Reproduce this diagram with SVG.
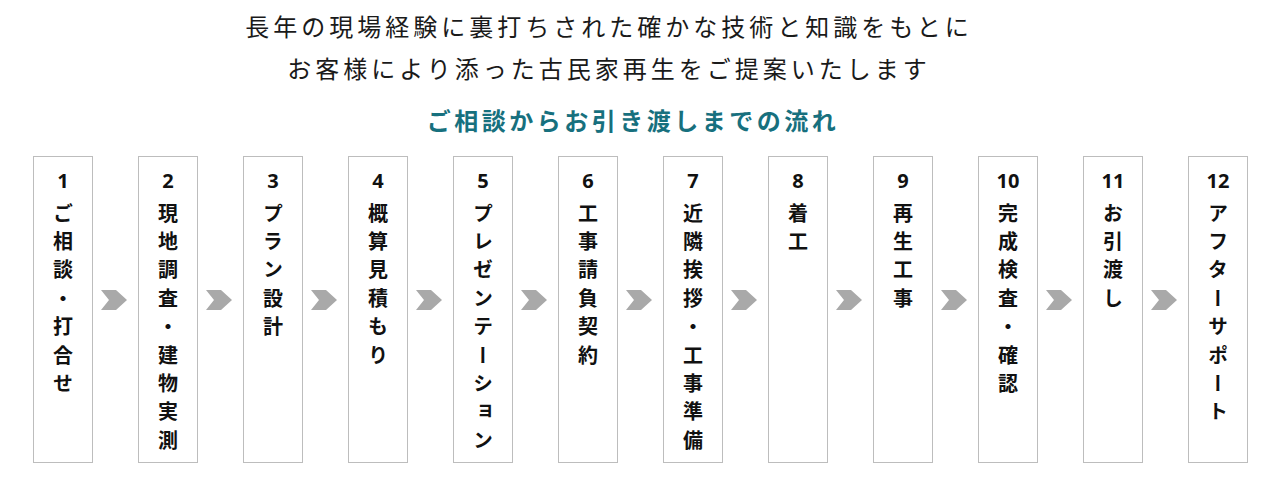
<svg xmlns="http://www.w3.org/2000/svg" width="1280" height="480" viewBox="0 0 1280 480">
<style>
.hd{font-family:"Noto Sans CJK JP","Noto Sans",sans-serif;font-size:24px;font-weight:400;fill:#1a1a1a;letter-spacing:4px;text-anchor:middle}
.tt{font-family:"Noto Sans CJK JP","Noto Sans",sans-serif;font-size:24px;font-weight:700;fill:#17707e;letter-spacing:3.5px;text-anchor:middle}
.box{fill:#fff;stroke:#bdbdbd;stroke-width:1}
.num{font-family:"Open Sans","Noto Sans",sans-serif;font-size:20px;font-weight:700;fill:#111;text-anchor:middle}
.lbl{font-family:"Noto Sans CJK JP",sans-serif;font-size:20px;font-weight:700;fill:#111;writing-mode:vertical-rl;letter-spacing:8.4px}
.chev{fill:#a9a9a9}
</style>
<defs>
<path id="chev" class="chev" d="M0,0 H15 L26,10 L15,20 H0 L8,10 Z"/>
</defs>
<g id="header">
<text class="hd" x="609" y="36">長年の現場経験に裏打ちされた確かな技術と知識をもとに</text>
<text class="hd" x="609" y="78">お客様により添った古民家再生をご提案いたします</text>
<text class="tt" x="633" y="130">ご相談からお引き渡しまでの流れ</text>
</g>
<g id="connectors">
<use href="#chev" x="101" y="290"/>
<use href="#chev" x="206" y="290"/>
<use href="#chev" x="311" y="290"/>
<use href="#chev" x="416" y="290"/>
<use href="#chev" x="521" y="290"/>
<use href="#chev" x="626" y="290"/>
<use href="#chev" x="731" y="290"/>
<use href="#chev" x="836" y="290"/>
<use href="#chev" x="941" y="290"/>
<use href="#chev" x="1046" y="290"/>
<use href="#chev" x="1151" y="290"/>
</g>
<g id="step1"><rect class="box" x="33.5" y="156.5" width="59" height="306"/><text class="num" x="63" y="188">1</text><text class="lbl" x="63" y="203">ご相談・打合せ</text></g>
<g id="step2"><rect class="box" x="138.5" y="156.5" width="59" height="306"/><text class="num" x="168" y="188">2</text><text class="lbl" x="168" y="203">現地調査・建物実測</text></g>
<g id="step3"><rect class="box" x="243.5" y="156.5" width="59" height="306"/><text class="num" x="273" y="188">3</text><text class="lbl" x="273" y="203">プラン設計</text></g>
<g id="step4"><rect class="box" x="348.5" y="156.5" width="59" height="306"/><text class="num" x="378" y="188">4</text><text class="lbl" x="378" y="203">概算見積もり</text></g>
<g id="step5"><rect class="box" x="453.5" y="156.5" width="59" height="306"/><text class="num" x="483" y="188">5</text><text class="lbl" x="483" y="203">プレゼンテーション</text></g>
<g id="step6"><rect class="box" x="558.5" y="156.5" width="59" height="306"/><text class="num" x="588" y="188">6</text><text class="lbl" x="588" y="203">工事請負契約</text></g>
<g id="step7"><rect class="box" x="663.5" y="156.5" width="59" height="306"/><text class="num" x="693" y="188">7</text><text class="lbl" x="693" y="203">近隣挨拶・工事準備</text></g>
<g id="step8"><rect class="box" x="768.5" y="156.5" width="59" height="306"/><text class="num" x="798" y="188">8</text><text class="lbl" x="798" y="203">着工</text></g>
<g id="step9"><rect class="box" x="873.5" y="156.5" width="59" height="306"/><text class="num" x="903" y="188">9</text><text class="lbl" x="903" y="203">再生工事</text></g>
<g id="step10"><rect class="box" x="978.5" y="156.5" width="59" height="306"/><text class="num" x="1008" y="188">10</text><text class="lbl" x="1008" y="203">完成検査・確認</text></g>
<g id="step11"><rect class="box" x="1083.5" y="156.5" width="59" height="306"/><text class="num" x="1113" y="188">11</text><text class="lbl" x="1113" y="203">お引渡し</text></g>
<g id="step12"><rect class="box" x="1188.5" y="156.5" width="59" height="306"/><text class="num" x="1218" y="188">12</text><text class="lbl" x="1218" y="203">アフターサポート</text></g>
</svg>
